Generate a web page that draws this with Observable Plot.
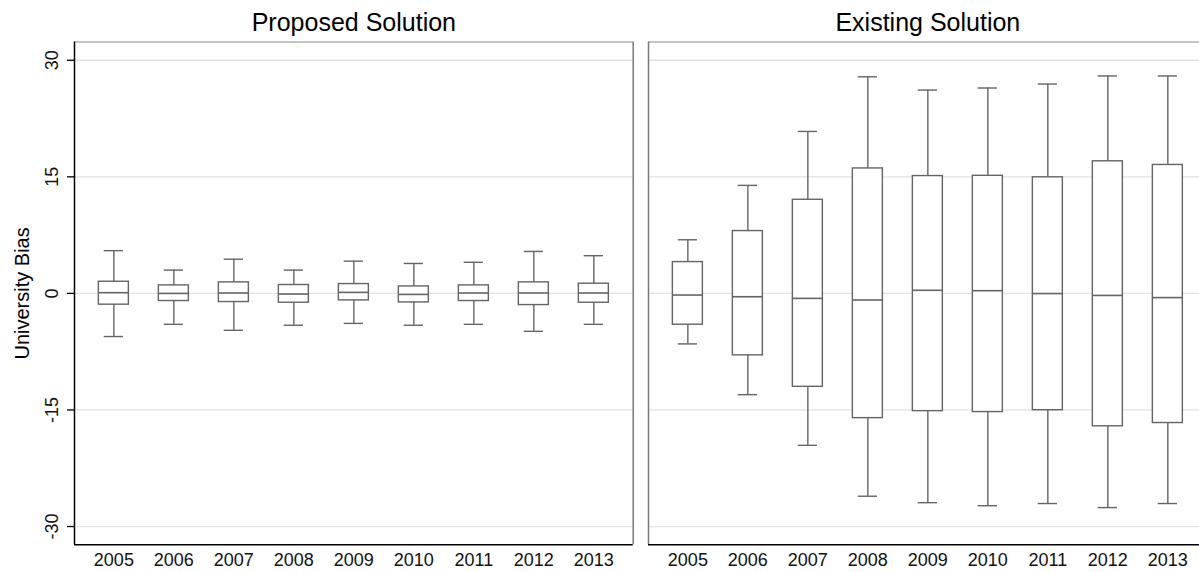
<!DOCTYPE html>
<html>
<head>
<meta charset="utf-8">
<script src="https://cdn.jsdelivr.net/npm/d3@7"></script>
<script src="https://cdn.jsdelivr.net/npm/@observablehq/plot@0.6"></script>
<style>
  html, body { margin: 0; padding: 0; background: #fff; overflow: hidden; }
  #wrap { position: relative; width: 1199px; height: 572px; overflow: hidden; background: #fff; }
  #left, #right { position: absolute; top: 0; height: 572px; }
  #left { left: 0; width: 640px; }
  #right { left: 640px; width: 559px; }
  #wrap svg { max-width: none !important; }
</style>
</head>
<body>
<div id="wrap"><div id="left"></div><div id="right"></div></div>
<script>
// ---- data ----
const years = [2005, 2006, 2007, 2008, 2009, 2010, 2011, 2012, 2013];
const yTicks = [-30, -15, 0, 15, 30];
const panelTitles = ["Proposed Solution", "Existing Solution"];
const yTitle = "University Bias";

const proposedHi  = [5.5, 3.0, 4.4, 3.0, 4.15, 3.85, 4.0, 5.4, 4.85];
const proposedQ3  = [1.5, 1.03, 1.42, 1.08, 1.2, 0.9, 1.03, 1.42, 1.25];
const proposedMed = [0.09, 0.0, 0.05, -0.08, 0.13, -0.13, 0.05, 0.05, 0.05];
const proposedQ1  = [-1.45, -0.98, -1.11, -1.2, -0.9, -1.16, -0.98, -1.5, -1.2];
const proposedLo  = [-5.55, -3.98, -4.75, -4.1, -3.86, -4.1, -3.98, -4.88, -3.98];

const existingHi  = [6.9, 13.9, 20.84, 27.87, 26.16, 26.43, 26.94, 27.98, 27.98];
const existingQ3  = [4.03, 8.02, 12.05, 16.08, 15.1, 15.13, 14.94, 17.0, 16.53];
const existingMed = [-0.21, -0.43, -0.64, -0.85, 0.4, 0.35, -0.02, -0.26, -0.54];
const existingQ1  = [-4.03, -7.97, -12.02, -16.05, -15.15, -15.27, -15.03, -17.1, -16.68];
const existingLo  = [-6.5, -13.03, -19.55, -26.1, -26.93, -27.32, -27.04, -27.56, -27.04];

// ---- build tables ----
function rows(hi, q3, med, q1, lo) {
  return years.map((year, i) => ({year, hi: hi[i], q3: q3[i], med: med[i], q1: q1[i], lo: lo[i]}));
}
const proposed = rows(proposedHi, proposedQ3, proposedMed, proposedQ1, proposedLo);
const existing = rows(existingHi, existingQ3, existingMed, existingQ1, existingLo);

const xDomain = [2004.344, 2013.656];
const yDomain = [-32.35, 32.35];
const boxHalf = 0.25, capHalf = 0.16;
const boxColor = "#646464";
const font = "'Liberation Sans', Arial, Helvetica, sans-serif";

function panel(data, title, isLeft) {
  const xRange = isLeft ? [74, 632.7] : [8, 566.7];
  const frameOpts = isLeft ? {} : {x1: xDomain[0], x2: xDomain[1]};
  const marks = [
    Plot.ruleY(yTicks, {...frameOpts, stroke: "#e2e2e2", strokeWidth: 1.3}),
    Plot.ruleX(data, {x: "year", y1: "lo", y2: "hi", stroke: boxColor, strokeWidth: 1.4}),
    Plot.rect(data, {x1: d => d.year - boxHalf, x2: d => d.year + boxHalf, y1: "q1", y2: "q3",
                     fill: "white", stroke: boxColor, strokeWidth: 1.4}),
    Plot.ruleY(data, {y: "med", x1: d => d.year - boxHalf, x2: d => d.year + boxHalf, stroke: boxColor, strokeWidth: 1.6}),
    Plot.ruleY(data, {y: "hi", x1: d => d.year - capHalf, x2: d => d.year + capHalf, stroke: boxColor, strokeWidth: 1.4}),
    Plot.ruleY(data, {y: "lo", x1: d => d.year - capHalf, x2: d => d.year + capHalf, stroke: boxColor, strokeWidth: 1.4}),
    // frame
    Plot.ruleY([yDomain[1]], {...frameOpts, stroke: "#b0b0b0", strokeWidth: 1.3}),
    Plot.ruleX([xDomain[0]], {stroke: isLeft ? "#000" : "#7a7a7a", strokeWidth: 1.5}),
    Plot.ruleY([yDomain[0]], {...frameOpts, stroke: "#000", strokeWidth: 1.5}),
    Plot.axisX({ticks: years, tickFormat: "d", tickSize: 0, tickPadding: 8, fontSize: 18, fill: "#111", label: null}),
    Plot.text([title], {x: isLeft ? undefined : (xDomain[0] + xDomain[1]) / 2,
                        frameAnchor: "top", lineAnchor: "bottom", dy: -11.5, fontSize: 25, fill: "#000"})
  ];
  if (isLeft) {
    marks.push(
      Plot.ruleX([xDomain[1]], {stroke: "#7a7a7a", strokeWidth: 1.5}),
      Plot.axisY({ticks: yTicks, tickSize: 7, tickFormat: () => "", stroke: "#000", strokeWidth: 1.3, label: null}),
      Plot.text(yTicks, {y: d => d, text: d => String(d), frameAnchor: "left", dx: -22.5, rotate: -90,
                         textAnchor: "middle", lineAnchor: "middle", fontSize: 18, fill: "#111"}),
      Plot.text([yTitle], {frameAnchor: "left", dx: -52, rotate: -90, textAnchor: "middle",
                           lineAnchor: "middle", fontSize: 20, fill: "#000"})
    );
  }
  return Plot.plot({
    width: isLeft ? 640 : 559,
    height: 572,
    marginLeft: isLeft ? 74 : 8,
    marginRight: isLeft ? 7.3 : 0,
    marginTop: 41.5,
    marginBottom: 27.7,
    x: {domain: xDomain, range: xRange, axis: null},
    y: {domain: yDomain, axis: null},
    style: {fontFamily: font, background: "white", overflow: "hidden", maxWidth: "none"},
    marks
  });
}

document.getElementById("left").append(panel(proposed, panelTitles[0], true));
document.getElementById("right").append(panel(existing, panelTitles[1], false));
</script>
</body>
</html>
